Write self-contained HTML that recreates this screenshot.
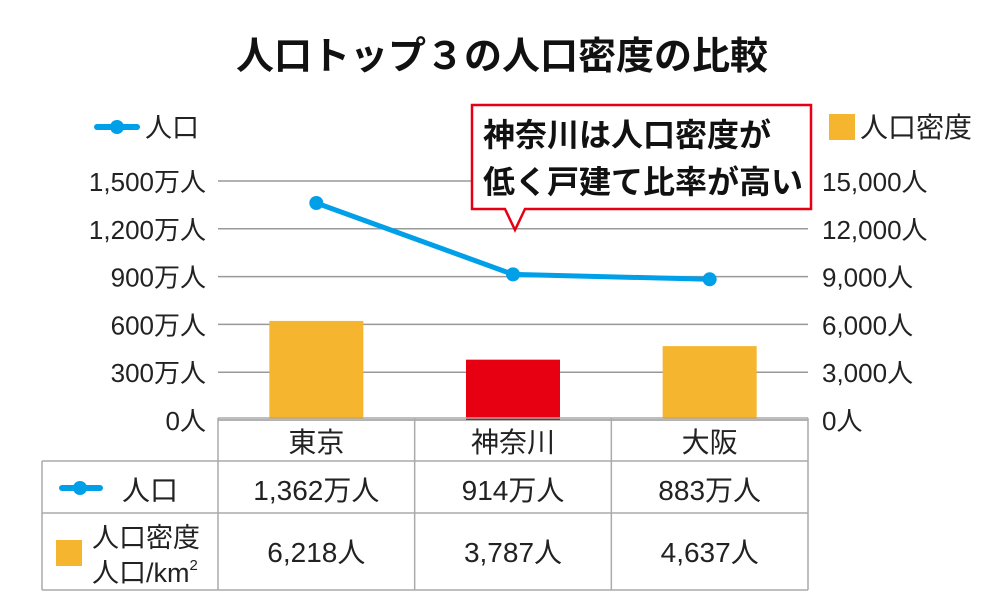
<!DOCTYPE html>
<html><head><meta charset="utf-8"><style>
body{margin:0;background:#fff;}
svg text{font-family:"Liberation Sans","Noto Sans CJK JP",sans-serif;}
</style></head><body>
<svg width="1000" height="609" viewBox="0 0 1000 609" xmlns="http://www.w3.org/2000/svg">
<text x="502" y="69" text-anchor="middle" font-size="38" font-weight="bold" fill="#111">人口トップ３の人口密度の比較</text>
<g id="grid"></g><g id="bars"></g><g id="line"></g><g id="axes"></g><g id="table"></g>
<g>
<line x1="97" y1="127" x2="137" y2="127" stroke="#00a0e9" stroke-width="6" stroke-linecap="round"/>
<circle cx="117" cy="127" r="7" fill="#00a0e9"/>
<text x="145" y="137" font-size="27" fill="#222">人口</text></g>
<g>
<rect x="829" y="114" width="26" height="26" fill="#f5b52e"/>
<text x="860" y="137" font-size="28" fill="#222">人口密度</text></g>
<g>
<path d="M472,105 H811 V209 H525 L515,230 L505,209 H472 Z" fill="#fff" stroke="#e60012" stroke-width="2.5"/>
<text x="483" y="146" font-size="32" font-weight="bold" fill="#111">神奈川は人口密度が</text>
<text x="483" y="193" font-size="32" font-weight="bold" fill="#111">低く戸建て比率が高い</text></g>
</svg>
<script>
const categories=["東京","神奈川","大阪"];
const population=[1362,914,883];
const density=[6218,3787,4637];
const popLabels=["1,362万人","914万人","883万人"];
const densLabels=["6,218人","3,787人","4,637人"];
const leftTicks=[0,300,600,900,1200,1500];
const leftTickLabels=["0人","300万人","600万人","900万人","1,200万人","1,500万人"];
const rightTicks=[0,3000,6000,9000,12000,15000];
const rightTickLabels=["0人","3,000人","6,000人","9,000人","12,000人","15,000人"];
const barColors=["#f5b52e","#e60012","#f5b52e"];
const NS="http://www.w3.org/2000/svg";
const X0=218,X1=808,Y0=420,Y1=181;
const colW=(X1-X0)/categories.length;
const xc=i=>X0+colW*(i+0.5);
const yL=v=>Y0-(v/1500)*(Y0-Y1);
const yR=v=>Y0-(v/15000)*(Y0-Y1);
function mk(tag,attrs,parent,txt){const e=document.createElementNS(NS,tag);for(const k in attrs)e.setAttribute(k,attrs[k]);if(txt!==undefined)e.textContent=txt;document.getElementById(parent).appendChild(e);return e;}
leftTicks.forEach((t,i)=>{
 const g=mk('line',{x1:X0,x2:X1,y1:yL(t),y2:yL(t),stroke:'#999','stroke-width':1.5},'grid');
 
 
 const l=mk('text',{x:206,y:yL(t)+10,'text-anchor':'end','font-size':26,fill:'#222'},'axes',leftTickLabels[i]);
 
 
});
rightTicks.forEach((t,i)=>{
 const l=mk('text',{x:822,y:yR(t)+10,'font-size':26,fill:'#222'},'axes',rightTickLabels[i]);
 
 
});
density.forEach((v,i)=>{
 const b=mk('rect',{x:xc(i)-47,y:yR(v),width:94,height:Y0-yR(v),fill:barColors[i]},'bars');
 
 
});
const pts=population.map((v,i)=>xc(i)+','+yL(v)).join(' ');
const pl=mk('polyline',{points:pts,fill:'none',stroke:'#00a0e9','stroke-width':5},'line');


population.forEach((v,i)=>{
 const c=mk('circle',{cx:xc(i),cy:yL(v),r:7,fill:'#00a0e9'},'line');
 
 
});
const TS='#aaa';
function ln(x1,y1,x2,y2){const l=mk('line',{x1,y1,x2,y2,stroke:TS,'stroke-width':1.5},'table');}
ln(X0,418,X1,418);ln(42,461,X1,461);ln(42,513,X1,513);ln(42,590,X1,590);
ln(42,461,42,590);[X0,X0+colW,X0+2*colW,X1].forEach(x=>ln(x,418,x,590));
categories.forEach((c,i)=>{
 const t=mk('text',{x:xc(i),y:452,'text-anchor':'middle','font-size':28,fill:'#222'},'table',c);
 
 
 const p=mk('text',{x:xc(i),y:500,'text-anchor':'middle','font-size':28,fill:'#222'},'table',popLabels[i]);
 
 
 const d=mk('text',{x:xc(i),y:562,'text-anchor':'middle','font-size':28,fill:'#222'},'table',densLabels[i]);
 
 
});
const tb=document.getElementById('table');
tb.insertAdjacentHTML('beforeend',
 '<g><line x1="62" y1="488" x2="100" y2="488" stroke="#00a0e9" stroke-width="6" stroke-linecap="round"/><circle cx="80" cy="488" r="7" fill="#00a0e9"/><text x="122" y="500" font-size="28" fill="#222">人口</text></g>'+
 '<g><rect x="56" y="540" width="26" height="26" fill="#f5b52e"/><text x="92" y="547" font-size="27" fill="#222">人口密度</text><text x="92" y="582" font-size="27" fill="#222">人口/km<tspan font-size="15" dy="-12">2</tspan></text></g>');
</script>
</body></html>
